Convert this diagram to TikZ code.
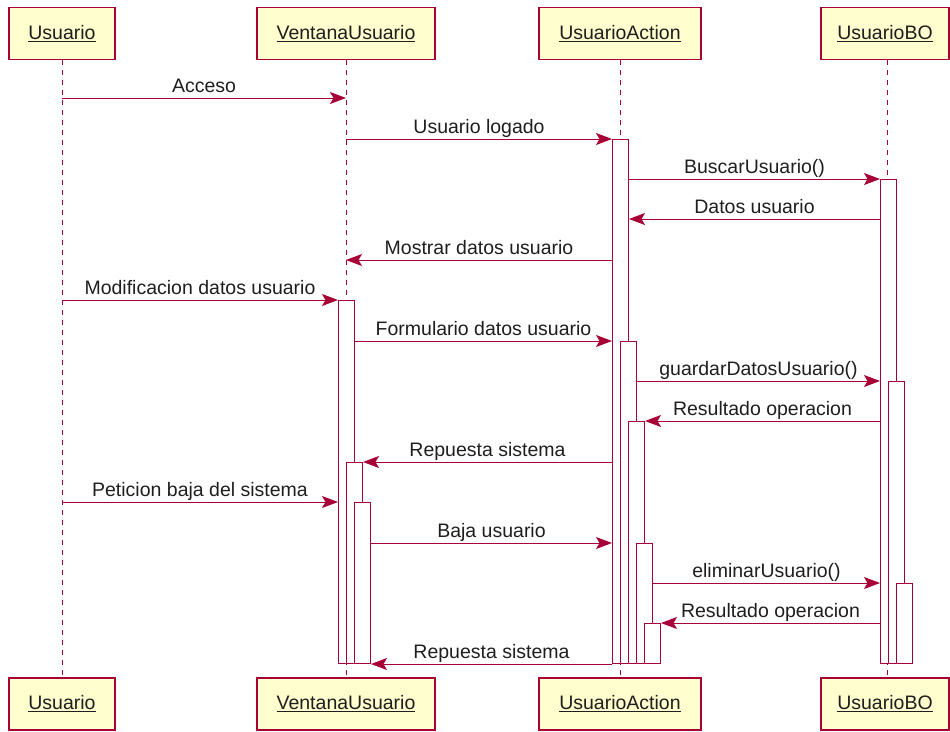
\documentclass[tikz,border=0pt]{standalone}
\usepackage{fontspec}
\setmainfont{Liberation Sans}
\usetikzlibrary{arrows.meta}
\definecolor{umlred}{HTML}{A80036}
\definecolor{umlfill}{HTML}{FEFECE}
\definecolor{umltext}{HTML}{1E1E1E}

\begin{document}
\begin{tikzpicture}[x=1pt,y=-1pt,
  actor/.style={draw=umlred, fill=umlfill, line width=1.2pt, minimum height=52pt,
                inner sep=0pt, text=umltext, font=\fontsize{19.5}{22}\selectfont},
  lifeline/.style={draw=umlred, line width=1pt, dash pattern=on 5pt off 5pt},
  actbar/.style={draw=umlred, fill=white, line width=1pt, anchor=north west,
                 minimum width=16pt, inner sep=0pt},
  msg/.style={draw=umlred, line width=1pt,
              -{Stealth[length=16pt, width=12pt, inset=3.5pt]}},
  lbl/.style={font=\fontsize{19.5}{22}\selectfont, text=umltext, anchor=base,
              inner sep=0pt, yshift=5.5pt}
]
\useasboundingbox (0,0) rectangle (950,731);

% participants, top and bottom
\node[actor, minimum width=106pt] (uTop) at (62,33.5)  {\underline{Usuario}};
\node[actor, minimum width=178pt] (vTop) at (346,33.5) {\underline{VentanaUsuario}};
\node[actor, minimum width=162pt] (aTop) at (620,33.5) {\underline{UsuarioAction}};
\node[actor, minimum width=128pt] (bTop) at (885,33.5) {\underline{UsuarioBO}};
\node[actor, minimum width=106pt] (uBot) at (62,704)   {\underline{Usuario}};
\node[actor, minimum width=178pt] (vBot) at (346,704)  {\underline{VentanaUsuario}};
\node[actor, minimum width=162pt] (aBot) at (620,704)  {\underline{UsuarioAction}};
\node[actor, minimum width=128pt] (bBot) at (885,704)  {\underline{UsuarioBO}};

% lifelines
\draw[lifeline] (uTop.south) -- (uBot.north);
\draw[lifeline] (vTop.south) -- (vBot.north);
\draw[lifeline] (aTop.south) -- (aBot.north);
\draw[lifeline] ([xshift=2pt]bTop.south) -- ([xshift=2pt]bBot.north);

% activation bars (all end at y = 663)
\node[actbar, minimum height=363pt] (v1) at (338,300) {};
\node[actbar, minimum height=201pt] (v2) at (346,462) {};
\node[actbar, minimum height=161pt] (v3) at (354,502) {};
\node[actbar, minimum height=524pt] (a1) at (612,139) {};
\node[actbar, minimum height=322pt] (a2) at (620,341) {};
\node[actbar, minimum height=242pt] (a3) at (628,421) {};
\node[actbar, minimum height=120pt] (a4) at (636,543) {};
\node[actbar, minimum height=40pt]  (a5) at (644,623) {};
\node[actbar, minimum height=484pt] (b1) at (880,179) {};
\node[actbar, minimum height=282pt] (b2) at (888,381) {};
\node[actbar, minimum height=80pt]  (b3) at (896,583) {};

% rows of messages that do not start a bar
\coordinate (r1) at (0,98);
\coordinate (r4) at (0,219);
\coordinate (r5) at (0,260);

% messages
\draw[msg] (uTop |- r1) -- (vTop |- r1) node[lbl, midway] {Acceso};
\draw[msg] (vTop |- a1.north) -- (a1.north west) node[lbl, midway] {Usuario logado};
\draw[msg] (a1.east |- b1.north) -- (b1.north west) node[lbl, midway] {BuscarUsuario()};
\draw[msg] (b1.west |- r4) -- (a1.east |- r4) node[lbl, midway] {Datos usuario};
\draw[msg] (a1.west |- r5) -- (vTop |- r5) node[lbl, midway] {Mostrar datos usuario};
\draw[msg] (uTop |- v1.north) -- (v1.north west) node[lbl, midway] {Modificacion datos usuario};
\draw[msg] (v1.east |- a2.north) -- (a1.west |- a2.north) node[lbl, midway] {Formulario datos usuario};
\draw[msg] (a2.east |- b2.north) -- (b1.west |- b2.north) node[lbl, midway] {guardarDatosUsuario()};
\draw[msg] (b1.west |- a3.north) -- (a3.north east) node[lbl, midway] {Resultado operacion};
\draw[msg] (a1.west |- v2.north) -- (v2.north east) node[lbl, midway] {Repuesta sistema};
\draw[msg] (uTop |- v3.north) -- (v1.west |- v3.north) node[lbl, midway] {Peticion baja del sistema};
\draw[msg] (v3.east |- a4.north) -- (a1.west |- a4.north) node[lbl, midway] {Baja usuario};
\draw[msg] (a4.east |- b3.north) -- (b1.west |- b3.north) node[lbl, midway] {eliminarUsuario()};
\draw[msg] (b1.west |- a5.north) -- (a5.north east) node[lbl, midway] {Resultado operacion};
\draw[msg] (a1.west |- a1.south) -- (v3.east |- a1.south) node[lbl, midway] {Repuesta sistema};
\end{tikzpicture}
\end{document}
